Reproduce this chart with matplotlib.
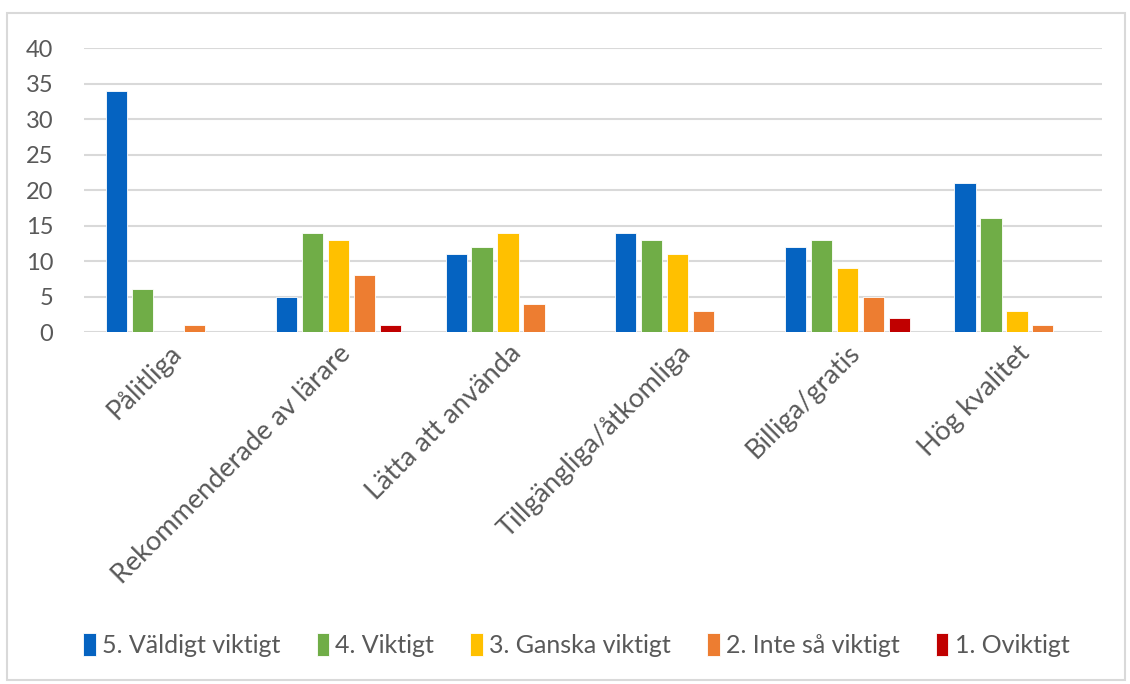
import numpy as np
import matplotlib.pyplot as plt
from matplotlib.patches import Rectangle

categories = ["Pålitliga", "Rekommenderade av lärare", "Lätta att använda",
              "Tillgängliga/åtkomliga", "Billiga/gratis", "Hög kvalitet"]
series_names = ["5. Väldigt viktigt", "4. Viktigt", "3. Ganska viktigt",
                "2. Inte så viktigt", "1. Oviktigt"]
v5 = [34, 5, 11, 14, 12, 21]
v4 = [6, 14, 12, 13, 13, 16]
v3 = [0, 13, 14, 11, 9, 3]
v2 = [1, 8, 4, 3, 5, 1]
v1 = [0, 1, 0, 0, 2, 0]
colors = ["#0563C1", "#70AD47", "#FFC000", "#ED7D31", "#C00000"]

plt.rcParams['font.family'] = ['Lato', 'DejaVu Sans']

fig = plt.figure(figsize=(11.3, 6.84), dpi=100)
ax = fig.add_axes([0.0743, 0.5146, 0.9007, 0.4152])

fig.patches.append(Rectangle((7 / 1130, 4 / 684), 1118 / 1130, 667 / 684,
                             transform=fig.transFigure, fill=False,
                             edgecolor="#D9D9D9", linewidth=1.5))

x = np.arange(len(categories))
step = 0.153
width = 0.125
for i, (vals, name, c) in enumerate(zip([v5, v4, v3, v2, v1], series_names, colors)):
    ax.bar(x + (i - 2) * step, vals, width, color=c, label=name,
           edgecolor="white", linewidth=0.6, zorder=3)

ax.set_xlim(-0.5, len(categories) - 0.5)
ax.set_ylim(0, 40)
ax.set_yticks(range(0, 41, 5))
ax.yaxis.grid(True, color="#D9D9D9", linewidth=1.5, zorder=0)
for s in ax.spines.values():
    s.set_visible(False)
ax.tick_params(axis='both', length=0, labelcolor="#595959")
ax.tick_params(axis='y', pad=22, labelsize=17)
ax.set_xticks(x)
ax.set_xticklabels(categories, rotation=45, ha='right', rotation_mode='anchor')
ax.tick_params(axis='x', pad=6, labelsize=19.5)

fig.legend(loc='center', bbox_to_anchor=(0.51, 0.057), ncol=5, frameon=False,
           fontsize=18, labelcolor="#595959", handlelength=0.5, handleheight=1.0,
           handletextpad=0.25, columnspacing=1.45)

fig.savefig("out.png", dpi=100)
